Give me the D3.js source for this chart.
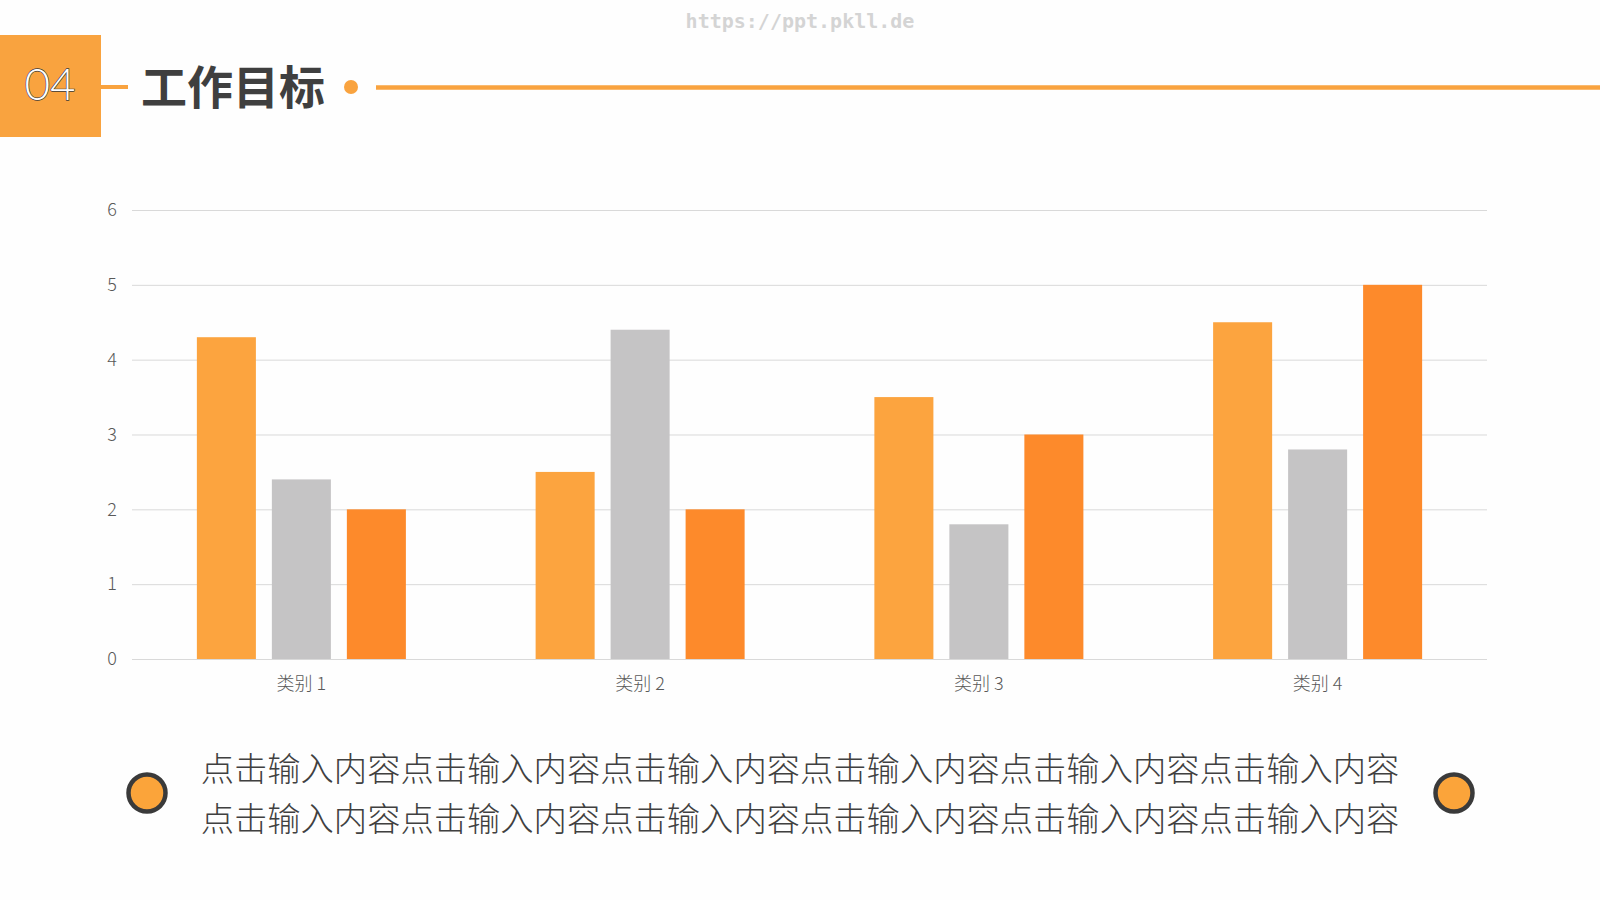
<!DOCTYPE html>
<html>
<head>
<meta charset="utf-8">
<script src="https://cdnjs.cloudflare.com/ajax/libs/d3/7.8.5/d3.min.js"></script>
<style>
  html, body { margin: 0; padding: 0; background: #fefefe; }
  svg { display: block; font-family: "Noto Sans CJK SC", "Noto Sans", sans-serif; }
</style>
</head>
<body>
<div id="chart"></div>
<script>
// chart data
const categories = ["类别 1", "类别 2", "类别 3", "类别 4"];
const seriesNames = ["系列 1", "系列 2", "系列 3"];
const series1 = [4.3, 2.5, 3.5, 4.5];
const series2 = [2.4, 4.4, 1.8, 2.8];
const series3 = [2, 2, 3, 5];
const yTicks = [0, 1, 2, 3, 4, 5, 6];
const colors = ["#FCA43F", "#C5C4C5", "#FD8A2B"];
const bodyLines = [
  "点击输入内容点击输入内容点击输入内容点击输入内容点击输入内容点击输入内容",
  "点击输入内容点击输入内容点击输入内容点击输入内容点击输入内容点击输入内容"
];

const W = 1600, H = 900;
const margin = { top: 210, bottom: 241, left: 132, right: 113 };

const svg = d3.select("#chart")
  .append("svg")
  .attr("width", W)
  .attr("height", H);

svg.append("rect").attr("width", W).attr("height", H).attr("fill", "#fefefe");

// watermark
svg.append("text")
  .attr("x", 800)
  .attr("y", 28)
  .attr("text-anchor", "middle")
  .style("font-family", "'DejaVu Sans Mono', monospace")
  .style("font-weight", "bold")
  .style("font-size", "20px")
  .attr("fill", "#d4d4d4")
  .text("https://ppt.pkll.de");

// header
svg.append("rect")
  .attr("x", 0).attr("y", 35)
  .attr("width", 101).attr("height", 102)
  .attr("fill", "#F9A33F");

svg.append("text")
  .attr("x", 50).attr("y", 100)
  .attr("text-anchor", "middle")
  .style("font-family", "Lato, 'Open Sans', sans-serif")
  .style("font-weight", 300)
  .style("font-size", "44px")
  .attr("fill", "#ffffff")
  .attr("stroke", "#3a3a3a")
  .attr("stroke-width", 1.3)
  .attr("paint-order", "stroke")
  .text("04");

svg.append("line")
  .attr("x1", 101).attr("x2", 128)
  .attr("y1", 87).attr("y2", 87)
  .attr("stroke", "#F9A33F").attr("stroke-width", 4);

svg.append("text")
  .attr("x", 141).attr("y", 104)
  .style("font-weight", "bold")
  .style("font-size", "46px")
  .attr("fill", "#3f3f3f")
  .text("工作目标");

svg.append("circle")
  .attr("cx", 351).attr("cy", 87).attr("r", 7)
  .attr("fill", "#F9A33F");

svg.append("line")
  .attr("x1", 376).attr("x2", W)
  .attr("y1", 87.5).attr("y2", 87.5)
  .attr("stroke", "#F9A33F").attr("stroke-width", 4.5);

// scales
const x0 = d3.scaleBand()
  .domain(categories)
  .range([margin.left, W - margin.right])
  .paddingInner(0.383)
  .paddingOuter(0.1915);

const x1 = d3.scaleBand()
  .domain(seriesNames)
  .range([0, x0.bandwidth()])
  .paddingInner(0.213);

const y = d3.scaleLinear()
  .domain([0, 6])
  .range([H - margin.bottom, margin.top]);

// gridlines
svg.append("g")
  .selectAll("line")
  .data(yTicks)
  .join("line")
  .attr("x1", margin.left)
  .attr("x2", W - margin.right)
  .attr("y1", d => y(d) + 0.5)
  .attr("y2", d => y(d) + 0.5)
  .attr("stroke", "#d9d9d9")
  .attr("stroke-width", 1);

// y axis labels
const yAxis = d3.axisLeft(y).tickValues(yTicks).tickFormat(d3.format("d")).tickSize(0).tickPadding(0);
svg.append("g")
  .attr("transform", `translate(${margin.left - 15}, 0)`)
  .call(yAxis)
  .call(g => g.select(".domain").remove())
  .call(g => g.selectAll("text")
    .style("font-family", "'Noto Sans CJK SC', sans-serif")
    .style("font-weight", 300)
    .style("font-size", "18px")
    .attr("fill", "#595959"));

// bars
const rows = categories.map((c, i) => ({
  category: c,
  values: [series1[i], series2[i], series3[i]]
}));

svg.append("g")
  .selectAll("g")
  .data(rows)
  .join("g")
  .attr("transform", d => `translate(${x0(d.category)}, 0)`)
  .selectAll("rect")
  .data(d => d.values.map((v, j) => ({ name: seriesNames[j], value: v, idx: j })))
  .join("rect")
  .attr("x", d => x1(d.name))
  .attr("y", d => y(d.value))
  .attr("width", x1.bandwidth())
  .attr("height", d => y(0) - y(d.value))
  .attr("fill", d => colors[d.idx]);

// x axis labels
const xAxis = d3.axisBottom(x0).tickSize(0).tickPadding(0);
svg.append("g")
  .attr("transform", `translate(0, ${y(0) + 18})`)
  .call(xAxis)
  .call(g => g.select(".domain").remove())
  .call(g => g.selectAll("text")
    .style("font-family", "'Noto Sans CJK SC', sans-serif")
    .style("font-weight", 300)
    .style("font-size", "18px")
    .attr("fill", "#595959"));

// bottom text
svg.append("g")
  .selectAll("text")
  .data(bodyLines)
  .join("text")
  .attr("x", 800)
  .attr("y", (d, i) => 781 + i * 50)
  .attr("text-anchor", "middle")
  .style("font-size", "33.3px")
  .style("font-weight", 300)
  .attr("fill", "#404040")
  .text(d => d);

svg.append("g")
  .selectAll("circle")
  .data([147, 1454])
  .join("circle")
  .attr("cx", d => d)
  .attr("cy", 793)
  .attr("r", 18.5)
  .attr("fill", "#FBA43A")
  .attr("stroke", "#3a3a3a")
  .attr("stroke-width", 4.5);
</script>
</body>
</html>
